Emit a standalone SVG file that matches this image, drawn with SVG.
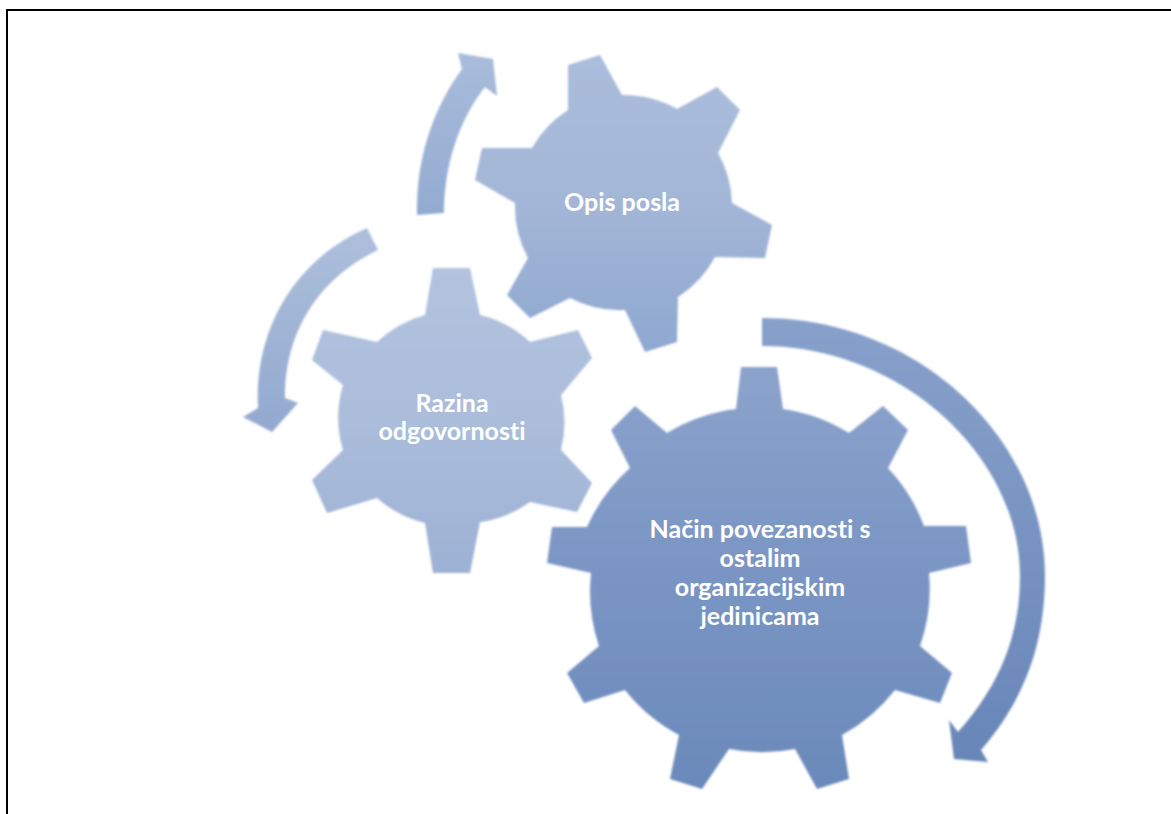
<svg xmlns="http://www.w3.org/2000/svg" width="1171" height="814" viewBox="0 0 1171 814">
<style>
.t{font-family:"Lato","Liberation Sans",sans-serif;font-weight:700;font-size:25px;fill:#fff;text-anchor:middle;font-variant-ligatures:none}
</style>
<defs>
<linearGradient id="g1" x1="0" y1="0" x2="0" y2="1"><stop offset="0" stop-color="#abbddb"/><stop offset="0.5" stop-color="#a3b6d7"/><stop offset="1" stop-color="#8fa8d0"/></linearGradient>
<linearGradient id="g2" x1="0" y1="0" x2="0" y2="1"><stop offset="0" stop-color="#b2c3df"/><stop offset="0.5" stop-color="#abbddb"/><stop offset="1" stop-color="#9db1d4"/></linearGradient>
<linearGradient id="g3" x1="0" y1="0" x2="0" y2="1"><stop offset="0" stop-color="#8ba3cc"/><stop offset="0.5" stop-color="#7a95c4"/><stop offset="1" stop-color="#6a8aba"/></linearGradient>
<linearGradient id="a1" x1="0" y1="1" x2="0" y2="0"><stop offset="0" stop-color="#93abd1"/><stop offset="1" stop-color="#a9bcdb"/></linearGradient>
<linearGradient id="a2" x1="0" y1="0" x2="0" y2="1"><stop offset="0" stop-color="#adbfdc"/><stop offset="1" stop-color="#92a9cf"/></linearGradient>
<linearGradient id="a3" x1="0" y1="0" x2="0" y2="1"><stop offset="0" stop-color="#88a1cb"/><stop offset="1" stop-color="#6886b8"/></linearGradient>
<filter id="soft" x="-5%" y="-5%" width="110%" height="110%"><feGaussianBlur stdDeviation="1.2"/></filter>
</defs>
<rect width="1171" height="814" fill="#fff"/>
<path d="M7 814V10H1171" fill="none" stroke="#000" stroke-width="2"/>
<g id="connectors" filter="url(#soft)">
<path id="arrow-1" fill="url(#a1)" d="M417 215C416 160 432 110 462 69L458 53L493 59L497 96L485 87C459 120 444 165 444 213Z"/>
<path id="arrow-2" fill="url(#a2)" d="M367 228L378 250C325 275 285 325 285 398L298 403L272 432L243 417L258 408C254 335 290 262 367 228Z"/>
<path id="arrow-3" fill="url(#a3)" d="M762 318C920 318 1045 440 1045 576C1045 650 1020 705 981 750L988 762L954 759L949 720L958 732C1000 685 1020 635 1020 576C1020 455 900 346 762 346Z"/>
</g>
<g id="gear-razina">
<path filter="url(#soft)" fill="url(#g2)" d="M425 315L433 268H470L480 315A112 112 0 0 1 530 342L578 330L592 358L561 395A112 112 0 0 1 561 450L592 483L577 512L530 502A112 112 0 0 1 480 522L470 573H433L425 523A112 112 0 0 1 377 498L327 513L312 480L343 450A112 112 0 0 1 343 385L312 360L323 330L377 342A112 112 0 0 1 425 315Z"/>
<text class="t" x="452" y="412">Razina</text>
<text class="t" x="452" y="440">odgovornosti</text>
</g>
<g id="gear-opis">
<path filter="url(#soft)" fill="url(#g1)" d="M568 110V65L600 55L622 95A108 108 0 0 1 677 109L717 87L740 110L718 153A108 108 0 0 1 732 203L772 225L765 258L715 257A108 108 0 0 1 678 297L677 342L645 352L625 310A108 108 0 0 1 570 298L530 318L507 295L528 258A108 108 0 0 1 515 203L475 180L482 148H532A108 108 0 0 1 568 110Z"/>
<text class="t" x="622" y="211">Opis posla</text>
</g>
<g id="gear-nacin">
<path filter="url(#soft)" fill="url(#g3)" d="M736 409L741 367H777L783 409A172 172 0 0 1 849 433L883 406L908 430L888 468A172 172 0 0 1 924 526H966L971 563L929 573A172 172 0 0 1 920 646L952 673L940 703L895 690A172 172 0 0 1 842 735L849 779L817 789L795 749A172 172 0 0 1 729 749L702 789L670 779L679 735A172 172 0 0 1 625 690L584 703L567 673L599 646A172 172 0 0 1 591 573L547 563L552 527H587A172 172 0 0 1 630 468L611 430L635 406L667 433A172 172 0 0 1 736 409Z"/>
<text class="t" x="760" y="538">Način povezanosti s</text>
<text class="t" x="760" y="567">ostalim</text>
<text class="t" x="760" y="596">organizacijskim</text>
<text class="t" x="760" y="625">jedinicama</text>
</g>
</svg>
